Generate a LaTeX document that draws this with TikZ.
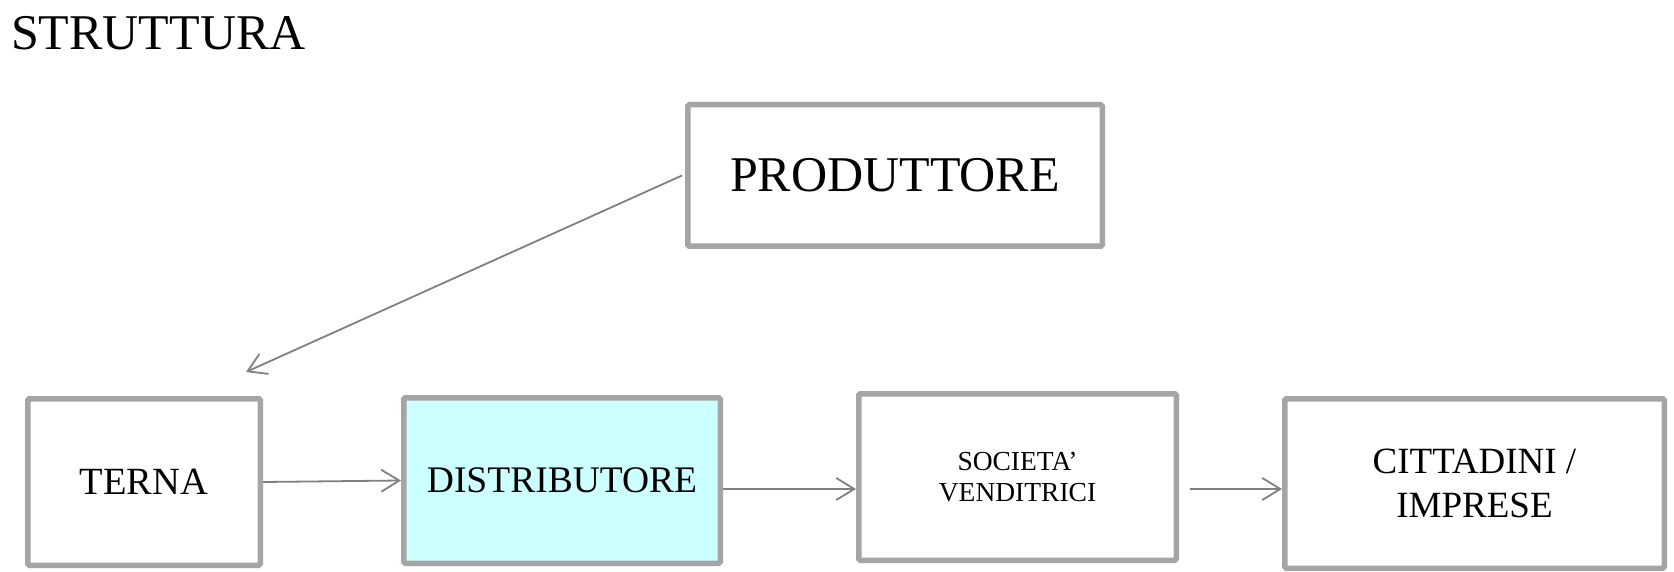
\documentclass[tikz,border=0pt]{standalone}
\usepackage{fontspec}
\setmainfont{Liberation Serif}
\usetikzlibrary{arrows.meta}
\definecolor{boxgray}{HTML}{A5A5A5}
\definecolor{arrgray}{HTML}{808080}
\definecolor{cyanfill}{HTML}{CCFFFF}
\tikzset{
  box/.style={draw=boxgray, line width=5.5pt, rounded corners=1.5pt, fill=white,
    inner sep=0pt, align=center, text=black},
  arr/.style={draw=arrgray, line width=1.8pt,
    -{Straight Barb[length=18pt, width=22pt, line width=1.8pt]}}
}
\begin{document}
\begin{tikzpicture}[x=1pt, y=-1pt]
\useasboundingbox[fill=white] (0,0) rectangle (1674,572);
\node[anchor=base west, inner sep=0pt, font=\fontsize{50}{55}\selectfont] (title) at (11,50) {STRUTTURA};
\node[box, minimum width=414.5pt, minimum height=141.5pt, font=\fontsize{50}{55}\selectfont] (prod) at (895,175.5) {PRODUTTORE};
\node[box, minimum width=232.5pt, minimum height=166.5pt, font=\fontsize{38.5}{43}\selectfont] (terna) at (144,482) {TERNA};
\node[box, fill=cyanfill, minimum width=316.5pt, minimum height=165.5pt, font=\fontsize{37.5}{43}\selectfont] (dist) at (562,480.5) {DISTRIBUTORE};
\node[box, minimum width=317.5pt, minimum height=166.5pt, font=\fontsize{27.5}{31.5}\selectfont] (soc) at (1017.5,477) {SOCIETA’\\VENDITRICI};
\node[box, minimum width=379.5pt, minimum height=169.5pt, font=\fontsize{37}{44.5}\selectfont] (citt) at (1474.5,483.5) {CITTADINI /\\IMPRESE};
\coordinate (ternatop) at (246,372);
\coordinate (socout) at (1190,489);
\draw[arr] ([xshift=-3pt]prod.west) -- (ternatop);
\draw[arr] (terna.east) -- (dist.west);
\draw[arr] (dist.east |- 0,489) -- (soc.west |- 0,489);
\draw[arr] (socout) -- (citt.west |- socout);
\end{tikzpicture}
\end{document}
